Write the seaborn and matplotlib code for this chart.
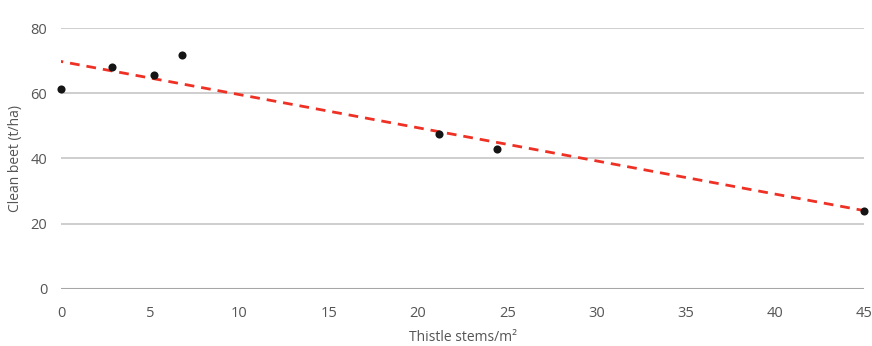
import seaborn as sns
import pandas as pd
import numpy as np
import matplotlib.pyplot as plt

# data
thistle_stems = [0.0, 2.85, 5.2, 6.75, 21.2, 24.4, 45.0]
clean_beet = [61.3, 68.1, 65.6, 71.8, 47.5, 42.9, 23.9]
x_ticks = [0, 5, 10, 15, 20, 25, 30, 35, 40, 45]
y_ticks = [0, 20, 40, 60, 80]

df = pd.DataFrame({'stems': thistle_stems, 'beet': clean_beet})

sns.set_theme(style="white")
plt.rcParams['font.family'] = ['Open Sans', 'DejaVu Sans']

fig = plt.figure(figsize=(8.72, 3.46), dpi=100)
ax = fig.add_axes([0.07, 0.165, 0.921, 0.754])

sns.regplot(data=df, x='stems', y='beet', ci=None, ax=ax, truncate=False,
            scatter_kws=dict(color='#151515', s=34, alpha=1, zorder=4, clip_on=False, linewidths=0),
            line_kws=dict(color='#ee3124', lw=2, ls=(0, (3.5, 2.5)), zorder=3))

ax.set_xlim(0, 45)
ax.set_ylim(0, 80)
ax.set_xticks(x_ticks)
ax.set_yticks(y_ticks)
for y in y_ticks[1:]:
    ax.axhline(y, color='#c6c6c6', lw=1.2, zorder=1)
ax.axhline(0, color='#a6a6a6', lw=1.5, zorder=1)
sns.despine(ax=ax, left=True, bottom=True, top=True, right=True)

ax.tick_params(axis='both', length=0, labelsize=10.5, labelcolor='#555555')
ax.tick_params(axis='x', pad=12)
ax.tick_params(axis='y', pad=10)
ax.set_xlabel('Thistle stems/m²', fontsize=10, color='#555555', labelpad=7)
ax.set_ylabel('Clean beet (t/ha)', fontsize=10, color='#555555', labelpad=5)

fig.savefig('out.png', dpi=100)
